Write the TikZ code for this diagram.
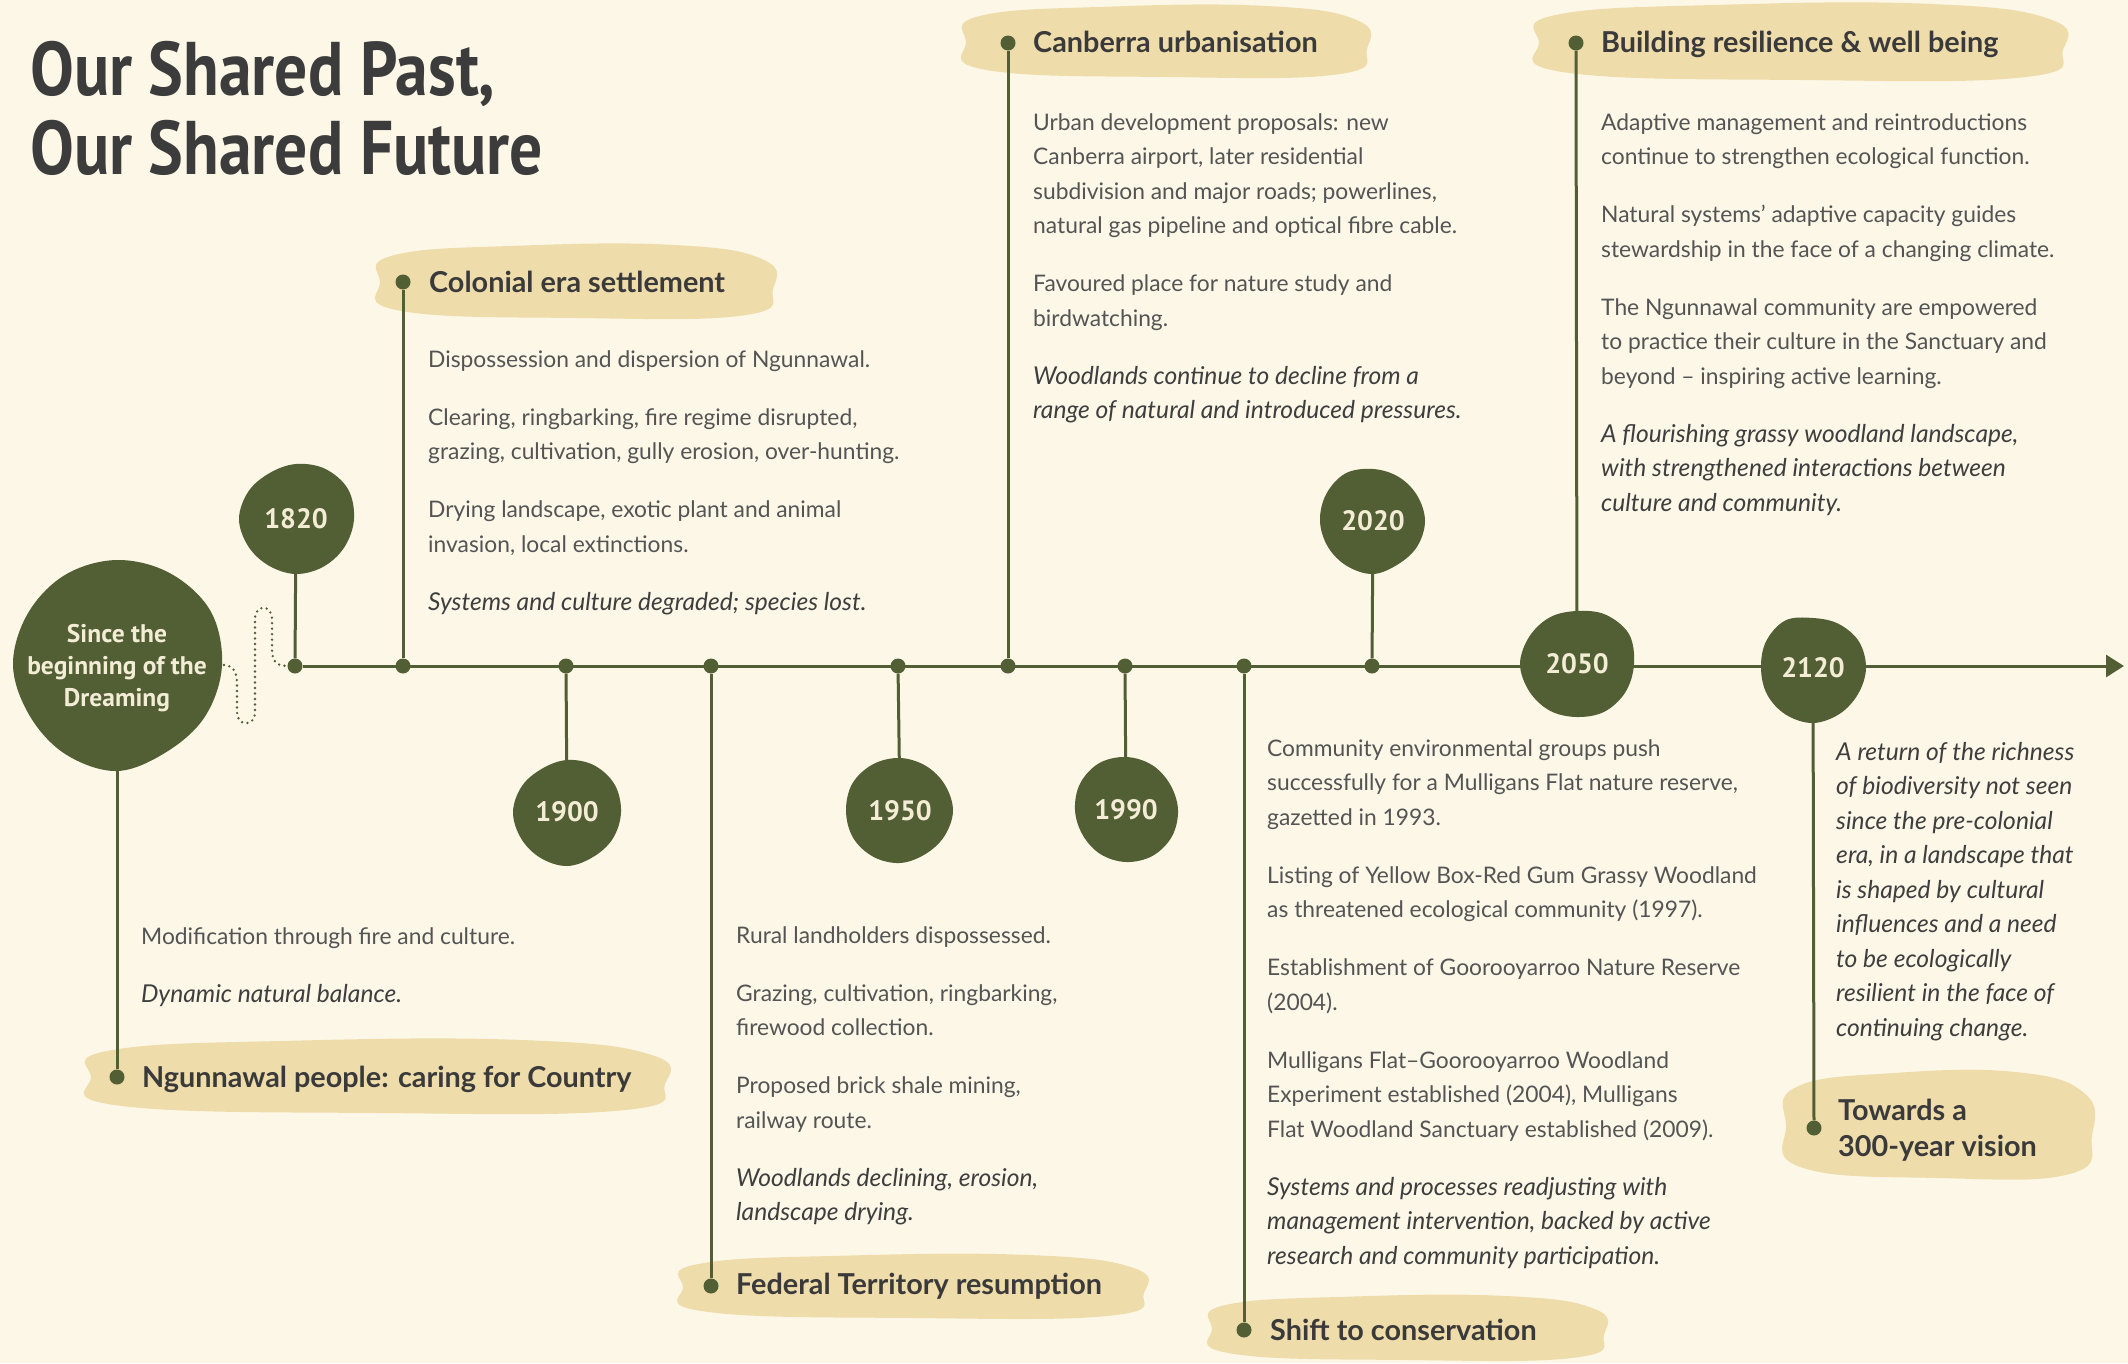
\documentclass[tikz,border=0pt]{standalone}
\usepackage{fontspec}
\usepackage{graphicx}
\setmainfont{Lato}
\newfontfamily\titlefont{PT Sans}
\usetikzlibrary{arrows.meta}
\definecolor{bgc}{HTML}{FCF7E7}
\definecolor{olv}{HTML}{525E34}
\definecolor{pillc}{HTML}{EEDCAA}
\definecolor{headc}{HTML}{3A3A3A}
\definecolor{bodyc}{HTML}{545454}
\definecolor{italc}{HTML}{3E3E3E}
\definecolor{creamtxt}{HTML}{F3EDD6}
\definecolor{titlec}{HTML}{3C3C3C}
\pgfdeclarelayer{bg}\pgfdeclarelayer{pills}\pgfdeclarelayer{lines}\pgfdeclarelayer{blobs}
\pgfsetlayers{bg,pills,lines,blobs,main}
\newcommand\pp{\\[23.5pt]}
\newcommand\itl{\color{italc}\fontsize{24.6}{34.5}\selectfont\itshape}
\newcommand\pillshape[4]{%
 \fill[pillc] plot[smooth cycle, tension=0.75] coordinates {
  ({#1+0.035*(#3-#1)},{#2+0.14*(#4-#2)})
  ({#1+0.35*(#3-#1)},{#2+0.01*(#4-#2)})
  ({#1+0.75*(#3-#1)},{#2})
  ({#3-0.025*(#3-#1)},{#2+0.2*(#4-#2)})
  ({#3},{#2+0.6*(#4-#2)})
  ({#3-0.07*(#3-#1)},{#4-0.04*(#4-#2)})
  ({#1+0.5*(#3-#1)},{#4})
  ({#1+0.05*(#3-#1)},{#4-0.1*(#4-#2)})
  ({#1},{#2+0.5*(#4-#2)})
 };}
\newcommand\blobshape[3]{%
 \begin{scope}[shift={(#1,#2)}]
  \fill[olv] plot[smooth cycle, tension=0.6] coordinates {#3};
 \end{scope}}
\begin{document}
\begin{tikzpicture}[x=1pt,y=-1pt,
  tdot/.style={circle, fill=olv, minimum size=15pt, inner sep=0pt},
  conn/.style={draw=olv, line width=3pt},
  dotline/.style={draw=olv, line width=2.6pt, line cap=round, dash pattern=on 0pt off 5.5pt},
  yearnode/.style={circle, minimum size=#1, inner sep=0pt, text=creamtxt, font=\titlefont\bfseries\fontsize{28}{30}\selectfont},
  yearnode/.default=108pt,
  bodytext/.style={anchor=base west, inner sep=0pt, text=bodyc, font=\fontsize{22.8}{34.5}\selectfont},
  headtext/.style={anchor=base west, inner sep=0pt, text=headc, font=\bfseries\fontsize{28.8}{36}\selectfont}]
\begin{pgfonlayer}{bg}
\fill[bgc] (0,0) rectangle (2128,1363);
\end{pgfonlayer}
\useasboundingbox (0,0) rectangle (2128,1363);

% title
\node[anchor=base west, inner sep=0pt, text=titlec] (title) at (30,95)
 {\titlefont\bfseries\fontsize{76}{79}\selectfont\resizebox{513pt}{\height}{\begin{tabular}[t]{@{}l@{}}Our Shared Past,\\Our Shared Future\end{tabular}}};

% axis dots
\node[tdot] (d1820) at (295,666) {};
\node[tdot] (dCol) at (403,666) {};
\node[tdot] (d1900) at (566,666) {};
\node[tdot] (dFed) at (711,666) {};
\node[tdot] (d1950) at (898,666) {};
\node[tdot] (dCan) at (1008,666) {};
\node[tdot] (d1990) at (1125,666) {};
\node[tdot] (dShift) at (1244,666) {};
\node[tdot] (d2020) at (1372,666) {};
\coordinate (axEnd) at (2124,666);
\coordinate (sq0) at (224,665);

% pill dots
\node[tdot] (pDream) at (117,1077) {};
\node[tdot] (pCol) at (403,282) {};
\node[tdot] (pFed) at (711,1286) {};
\node[tdot] (pCan) at (1008,43) {};
\node[tdot] (pShift) at (1244,1330) {};
\node[tdot] (pBuild) at (1576,43) {};
\node[tdot] (p2120) at (1814,1128) {};

% year nodes
\node[yearnode=210pt, align=center, font=\titlefont\bfseries\fontsize{25.5}{32}\selectfont] (yDream) at (117,668) {Since the\\beginning of the\\Dreaming};
\node[yearnode=112pt] (y1820) at (296,519) {1820};
\node[yearnode] (y1900) at (567,812) {1900};
\node[yearnode] (y1950) at (900,811) {1950};
\node[yearnode] (y1990) at (1126,810) {1990};
\node[yearnode] (y2020) at (1373,521) {2020};
\node[yearnode=112pt] (y2050) at (1577,664) {2050};
\node[yearnode] (y2120) at (1813,668) {2120};

% pills
\begin{pgfonlayer}{pills}
\pillshape{91}{1040}{665}{1113}
\pillshape{380}{245}{773}{318}
\pillshape{683}{1255}{1144}{1318}
\pillshape{966}{6}{1367}{77}
\pillshape{1212}{1296}{1604}{1360}
\pillshape{1539}{4}{2063}{80}
\pillshape{1786}{1072}{2092}{1178}
\end{pgfonlayer}

% blobs
\begin{pgfonlayer}{blobs}
\blobshape{117}{665}{(0:105) (30:102) (60:100) (90:106) (120:103) (150:101) (180:104) (210:103) (240:104) (270:105) (300:106) (330:108)}
\blobshape{296}{519}{(0:58) (30:56) (60:55) (90:55) (120:54) (150:55) (180:57) (210:55) (240:53) (270:55) (300:58) (330:60)}
\blobshape{567}{812}{(0:54) (30:53) (60:52) (90:54) (120:53) (150:53) (180:54) (210:52) (240:50) (270:52) (300:54) (330:55)}
\blobshape{900}{811}{(0:53) (30:51) (60:50) (90:52) (120:53) (150:54) (180:54) (210:55) (240:54) (270:53) (300:52) (330:52)}
\blobshape{1126}{810}{(0:52) (30:53) (60:53) (90:52) (120:51) (150:50) (180:51) (210:53) (240:54) (270:53) (300:52) (330:51)}
\blobshape{1373}{521}{(0:52) (30:51) (60:50) (90:53) (120:52) (150:52) (180:53) (210:54) (240:55) (270:52) (300:51) (330:51)}
\blobshape{1577}{664}{(0:57) (30:56) (60:55) (90:53) (120:54) (150:55) (180:57) (210:55) (240:54) (270:53) (300:57) (330:60)}
\blobshape{1813}{668}{(0:53) (30:52) (60:53) (90:55) (120:54) (150:53) (180:52) (210:54) (240:55) (270:50) (300:51) (330:53)}
\end{pgfonlayer}

% connectors
\begin{pgfonlayer}{lines}
\draw[conn, -{Triangle[length=18pt,width=22pt]}] (d1820) -- (axEnd);
\draw[conn] (yDream.center) -- (pDream);
\draw[conn] (d1820) -- (y1820.center);
\draw[conn] (dCol) -- (pCol);
\draw[conn] (d1900) -- (y1900.center);
\draw[conn] (dFed) -- (pFed);
\draw[conn] (d1950) -- (y1950.center);
\draw[conn] (dCan) -- (pCan);
\draw[conn] (d1990) -- (y1990.center);
\draw[conn] (dShift) -- (pShift);
\draw[conn] (d2020) -- (y2020.center);
\draw[conn] (y2050.center) -- (pBuild);
\draw[conn] (y2120.center) -- (p2120);
\draw[dotline] (sq0) .. controls (234,666) and (237,672) .. (237,685) -- (237,712)
  .. controls (237,727) and (255,727) .. (255,712) -- (255,619)
  .. controls (255,604) and (272,604) .. (272,619) -- (272,650)
  .. controls (272,664) and (280,666) .. (d1820);
\end{pgfonlayer}

% headers
\node[headtext] (hDream) at (142,1087) {Ngunnawal people: caring for Country};
\node[headtext] (hCol) at (429,292) {Colonial era settlement};
\node[headtext] (hFed) at (736,1294) {Federal Territory resumption};
\node[headtext] (hCan) at (1033,52) {Canberra urbanisation};
\node[headtext] (hShift) at (1270,1340) {Shift to conservation};
\node[headtext] (hBuild) at (1601,52) {Building resilience \& well being};
\node[headtext] (h2120) at (1838,1120) {\parbox[t]{300pt}{Towards a\\300-year vision}};

% body texts
\node[bodytext] (bDream) at (141,944) {\parbox[t]{700pt}{\raggedright Modification through fire and culture.\pp\itl Dynamic natural balance.}};
\node[bodytext] (bCol) at (428,367) {\parbox[t]{700pt}{\raggedright Dispossession and dispersion of Ngunnawal.\pp Clearing, ringbarking, fire regime disrupted,\\grazing, cultivation, gully erosion, over-hunting.\pp Drying landscape, exotic plant and animal\\invasion, local extinctions.\pp\itl Systems and culture degraded; species lost.}};
\node[bodytext] (bFed) at (736,943) {\parbox[t]{700pt}{\raggedright Rural landholders dispossessed.\pp Grazing, cultivation, ringbarking,\\firewood collection.\pp Proposed brick shale mining,\\railway route.\pp\itl Woodlands declining, erosion,\\landscape drying.}};
\node[bodytext] (bCan) at (1033,130) {\parbox[t]{700pt}{\raggedright Urban development proposals: new\\Canberra airport, later residential\\subdivision and major roads; powerlines,\\natural gas pipeline and optical fibre cable.\pp Favoured place for nature study and\\birdwatching.\pp\itl Woodlands continue to decline from a\\range of natural and introduced pressures.}};
\node[bodytext] (bShift) at (1267,756) {\parbox[t]{700pt}{\raggedright Community environmental groups push\\successfully for a Mulligans Flat nature reserve,\\gazetted in 1993.\pp Listing of Yellow Box-Red Gum Grassy Woodland\\as threatened ecological community (1997).\pp Establishment of Goorooyarroo Nature Reserve\\(2004).\pp Mulligans Flat–Goorooyarroo Woodland\\Experiment established (2004), Mulligans\\Flat Woodland Sanctuary established (2009).\pp\itl Systems and processes readjusting with\\management intervention, backed by active\\research and community participation.}};
\node[bodytext] (bBuild) at (1601,130) {\parbox[t]{700pt}{\raggedright Adaptive management and reintroductions\\continue to strengthen ecological function.\pp Natural systems’ adaptive capacity guides\\stewardship in the face of a changing climate.\pp The Ngunnawal community are empowered\\to practice their culture in the Sanctuary and\\beyond – inspiring active learning.\pp\itl A flourishing grassy woodland landscape,\\with strengthened interactions between\\culture and community.}};
\node[bodytext] (b2120) at (1836,760) {\parbox[t]{400pt}{\raggedright\leavevmode\itl A return of the richness\\of biodiversity not seen\\since the pre-colonial\\era, in a landscape that\\is shaped by cultural\\influences and a need\\to be ecologically\\resilient in the face of\\continuing change.}};
\end{tikzpicture}
\end{document}
